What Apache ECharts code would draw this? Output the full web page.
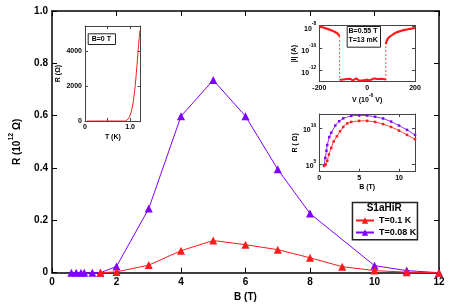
<!DOCTYPE html>
<html><head><meta charset="utf-8">
<script src="https://cdn.jsdelivr.net/npm/echarts@6/dist/echarts.min.js"></script>
<style>html,body{margin:0;padding:0;background:#fff}#c{width:463px;height:308px}</style>
</head><body><div id="c"></div>
<script>
// ---- main plot data ----
const redB = [1.5, 2, 3, 4, 5, 6, 7, 8, 9, 10, 11, 12];
const redR = [0, 0.003, 0.029, 0.084, 0.123, 0.107, 0.088, 0.057, 0.023, 0.008, 0.002, 0];
const purB = [0.6, 0.75, 0.9, 1.0, 1.25, 1.5, 2, 3, 4, 5, 6, 7, 8, 10, 11, 12];
const purR = [0, 0, 0, 0, 0, 0, 0.024, 0.245, 0.598, 0.736, 0.598, 0.395, 0.226, 0.027, 0.008, 0];
const mainXTicks = [0, 2, 4, 6, 8, 10, 12];
const mainYTicks = [0, 0.2, 0.4, 0.6, 0.8, 1.0];
const legendTitle = 'S1aHiR';
const redName = 'T=0.1 K';
const purName = 'T=0.08 K';
// ---- inset 1: R(T) at B=0 ----
const in1T = [0.05, 0.3, 0.6, 0.85, 0.9, 0.95, 1.0, 1.05, 1.1, 1.15, 1.2, 1.22];
const in1R = [0, 0, 0, 0, 20, 100, 320, 800, 1700, 3100, 4700, 5200];
// ---- inset 2: log10|I| vs V ----
const in2LeftV = [-200, -180, -160, -140, -125, -115];
const in2LeftI = [-8.0, -8.1, -8.25, -8.42, -8.6, -8.85];
const in2DropLV = [-115, -115];
const in2DropLI = [-8.85, -12.85];
const in2NoiseV = [-115, -108, -100, -92, -85, -77, -70, -60, -52, -45, -36, -28, -20, -12, -4, 4, 12, 20, 28, 36, 44, 52, 60, 68, 74, 78];
const in2NoiseI = [-12.85, -12.72, -12.8, -12.9, -12.76, -12.83, -12.74, -12.88, -12.8, -12.7, -12.86, -12.78, -12.9, -12.75, -12.82, -12.73, -12.87, -12.79, -12.7, -12.84, -12.76, -12.9, -12.74, -12.82, -12.77, -12.85];
const in2RiseRV = [78, 78];
const in2RiseRI = [-12.85, -9.6];
const in2RightV = [78, 82, 88, 95, 110, 123, 140, 158, 175, 193, 200];
const in2RightI = [-9.6, -9.3, -9.05, -8.9, -8.68, -8.52, -8.4, -8.3, -8.22, -8.15, -8.12];
// ---- inset 3: log10 R vs B ----
const in3PurB = [0.6, 0.75, 0.9, 1.0, 1.25, 1.5, 2, 2.5, 3, 4, 5, 6, 7, 8, 9, 10, 11, 12];
const in3PurLogR = [4.9, 5.9, 6.9, 7.7, 8.8, 9.4, 10.4, 11.0, 11.4, 11.75, 11.82, 11.78, 11.62, 11.38, 10.95, 10.4, 9.8, 9.1];
const in3RedB = [0.6, 0.8, 1.0, 1.2, 1.5, 1.8, 2.2, 2.6, 3, 3.5, 4, 5, 6, 7, 8, 9, 10, 11, 12];
const in3RedLogR = [4.8, 5.0, 5.5, 6.4, 7.3, 8.2, 8.9, 9.6, 10.2, 10.7, 10.9, 11.05, 11.05, 10.9, 10.6, 10.2, 9.7, 9.1, 8.5];

const FONT = 'Liberation Sans, Arial, sans-serif';
const RED = '#ff1a1a', PUR = '#7f00ff';
const zip = (a, b) => a.map((v, i) => [v, b[i]]);

const lbl = (size, extra) => Object.assign({fontFamily: FONT, fontWeight: 'bold', fontSize: size, color: '#000'}, extra || {});

function axisPair(kind, gridIndex, base, frameColor, frameW, tickLen) {
  const main = Object.assign({
    type: 'value', gridIndex: gridIndex,
    axisLine: {show: true, onZero: false, lineStyle: {color: frameColor, width: frameW}},
    axisTick: {show: true, inside: true, length: tickLen, lineStyle: {color: frameColor, width: 1}},
    splitLine: {show: false}
  }, base);
  const mirror = {
    type: 'value', gridIndex: gridIndex, min: base.min, max: base.max,
    position: kind === 'x' ? 'top' : 'right',
    axisLine: {show: true, onZero: false, lineStyle: {color: frameColor, width: frameW}},
    axisTick: {show: true, inside: true, length: tickLen, lineStyle: {color: frameColor, width: 1},
      customValues: base.axisTick && base.axisTick.customValues},
    axisLabel: {show: false}, splitLine: {show: false}
  };
  if (base.interval !== undefined) mirror.interval = base.interval;
  if (base.axisTick && base.axisTick.customValues) {
    main.axisTick = Object.assign({show: true, inside: true, length: tickLen, lineStyle: {color: frameColor, width: 1}}, base.axisTick);
  }
  return [main, mirror];
}

const supRich = (b, s) => ({
  b: lbl(b, {lineHeight: b + 4, verticalAlign: 'bottom'}),
  s: lbl(s, {lineHeight: s, verticalAlign: 'top'})
});

const xAxes = [], yAxes = [];
// main
xAxes.push(...axisPair('x', 0, {
  min: 0, max: 12, interval: 2, position: 'bottom',
  axisLabel: Object.assign(lbl(10), {margin: 5}),
  name: 'B (T)', nameLocation: 'middle', nameGap: 19, nameTextStyle: lbl(10)
}, '#000', 1.5, 5));
yAxes.push(...axisPair('y', 0, {
  min: 0, max: 1, interval: 0.2, position: 'left',
  axisLabel: Object.assign(lbl(10), {margin: 4, formatter: v => v === 0 ? '0' : v.toFixed(1)}),
  name: '{b|R (10}{s|12}{b| Ω)}', nameLocation: 'middle', nameGap: 30, nameRotate: 90,
  nameTextStyle: {rich: supRich(10, 7)}
}, '#000', 1.5, 5));
// inset 1
xAxes.push(...axisPair('x', 1, {
  min: 0, max: 1.235, position: 'bottom',
  axisTick: {customValues: [0, 0.5, 1.0]},
  axisLabel: Object.assign(lbl(7), {margin: 3, customValues: [0, 1.0], formatter: v => v === 0 ? '0' : v.toFixed(1)}),
  name: 'T (K)', nameLocation: 'middle', nameGap: 13, nameTextStyle: lbl(7)
}, '#444', 1, 3));
yAxes.push(...axisPair('y', 1, {
  min: 0, max: 5430, position: 'left',
  axisTick: {customValues: [0, 2000, 4000]},
  axisLabel: Object.assign(lbl(7), {margin: 3, customValues: [0, 2000, 4000], formatter: v => String(v)}),
  name: 'R (Ω)', nameLocation: 'middle', nameGap: 23, nameRotate: 90, nameTextStyle: lbl(7)
}, '#444', 1, 3));
// inset 2
xAxes.push(...axisPair('x', 2, {
  min: -200, max: 200, position: 'bottom',
  axisTick: {customValues: [-200, 0, 200]},
  axisLabel: Object.assign(lbl(7), {margin: 3, customValues: [-200, 0, 200], formatter: v => String(v)}),
  name: '{b|V (10}{s|-6}{b| V)}', nameLocation: 'middle', nameGap: 11,
  nameTextStyle: {rich: supRich(7, 5)}
}, '#444', 1, 3));
yAxes.push(...axisPair('y', 2, {
  min: -13, max: -7.9, position: 'left',
  axisTick: {customValues: [-12, -10, -8]},
  axisLabel: {margin: 3, customValues: [-12, -10, -8], formatter: v => '{b|10}{s|' + v + '}', rich: supRich(7, 5)},
  name: '|I| (A)', nameLocation: 'middle', nameGap: 22, nameRotate: 90, nameTextStyle: lbl(7)
}, '#444', 1, 3));
// inset 3
xAxes.push(...axisPair('x', 3, {
  min: 0, max: 12, position: 'bottom',
  axisTick: {customValues: [0, 5, 10]},
  axisLabel: Object.assign(lbl(7), {margin: 3, customValues: [0, 5, 10]}),
  name: 'B (T)', nameLocation: 'middle', nameGap: 12, nameTextStyle: lbl(7)
}, '#444', 1, 3));
yAxes.push(...axisPair('y', 3, {
  min: 4, max: 12, position: 'left',
  axisTick: {customValues: [5, 10]},
  axisLabel: {margin: 3, customValues: [5, 10], formatter: v => '{b|10}{s|' + v + '}', rich: supRich(7, 5)},
  name: 'R ( Ω)', nameLocation: 'middle', nameGap: 18, nameRotate: 90, nameTextStyle: lbl(7)
}, '#444', 1, 3));

const line = (name, xi, data, color, w, extra) => Object.assign({
  name: name, type: 'line', xAxisIndex: xi, yAxisIndex: xi, data: data,
  showSymbol: false, symbol: 'none', silent: true, animation: false,
  lineStyle: {color: color, width: w}, itemStyle: {color: color}
}, extra || {});

const series = [
  line(redName, 0, zip(redB, redR), RED, 1, {symbol: 'triangle', showSymbol: true, symbolSize: 8, z: 3}),
  line(purName, 0, zip(purB, purR), PUR, 1, {symbol: 'triangle', showSymbol: true, symbolSize: 8, z: 2}),
  line('in1', 2, zip(in1T, in1R), RED, 1, {smooth: 0.3}),
  line('in2a', 4, zip(in2LeftV, in2LeftI), RED, 2.2),
  line('in2b', 4, zip(in2DropLV, in2DropLI), RED, 0.8, {lineStyle: {color: RED, width: 0.8, type: [2, 2]}}),
  line('in2c', 4, zip(in2NoiseV, in2NoiseI), RED, 2),
  line('in2d', 4, zip(in2RiseRV, in2RiseRI), RED, 0.8, {lineStyle: {color: RED, width: 0.8, type: [2, 2]}}),
  line('in2e', 4, zip(in2RightV, in2RightI), RED, 2.2, {smooth: 0.3}),
  line('in3p', 6, zip(in3PurB, in3PurLogR), PUR, 0.8, {symbol: 'rect', showSymbol: true, symbolSize: 2.5}),
  line('in3r', 6, zip(in3RedB, in3RedLogR), RED, 0.8, {symbol: 'rect', showSymbol: true, symbolSize: 2.5})
];

const chart = echarts.init(document.getElementById('c'), null, {renderer: 'canvas'});
chart.setOption({
  animation: false,
  backgroundColor: '#fff',
  grid: [
    {left: 45, top: 11, width: 394, height: 261.7, containLabel: false},
    {left: 85, top: 26, width: 55.7, height: 95, show: true, backgroundColor: '#fff', borderWidth: 0},
    {left: 319.3, top: 25.5, width: 95.7, height: 56.2, show: true, backgroundColor: '#fff', borderWidth: 0},
    {left: 319.3, top: 114, width: 95.7, height: 57.7, show: true, backgroundColor: '#fff', borderWidth: 0}
  ],
  xAxis: xAxes,
  yAxis: yAxes,
  legend: {
    data: [redName, purName], orient: 'vertical', left: 355, top: 216, z: 30,
    itemWidth: 18, itemHeight: 8, itemGap: 3, padding: 0,
    textStyle: lbl(9), selectedMode: false
  },
  graphic: [
    {type: 'rect', left: 351.7, top: 201.7, shape: {width: 65, height: 37.3},
      style: {fill: '#fff', stroke: '#222', lineWidth: 1.5}, z: 10},
    {type: 'text', x: 384.2, y: 208.5, style: {text: legendTitle, font: 'bold 10px ' + FONT, fill: '#000', textAlign: 'center', textVerticalAlign: 'middle'}, z: 11},
    {type: 'rect', left: 87.7, top: 33.3, shape: {width: 27.3, height: 10.7},
      style: {fill: '#fff', stroke: '#222', lineWidth: 1}, z: 50},
    {type: 'text', x: 101.3, y: 38.8, style: {text: 'B=0 T', font: 'bold 7px ' + FONT, fill: '#000', textAlign: 'center', textVerticalAlign: 'middle'}, z: 51},
    {type: 'rect', left: 346.7, top: 26, shape: {width: 33.3, height: 20.7},
      style: {fill: '#fff', stroke: '#222', lineWidth: 1}, z: 50},
    {type: 'text', x: 348.5, y: 31.5, style: {text: 'B=0.55 T', font: 'bold 7px ' + FONT, fill: '#000', textAlign: 'left', textVerticalAlign: 'middle'}, z: 51},
    {type: 'text', x: 348.5, y: 40.5, style: {text: 'T=13 mK', font: 'bold 7px ' + FONT, fill: '#000', textAlign: 'left', textVerticalAlign: 'middle'}, z: 51}
  ],
  series: series
});
</script>
</body></html>
